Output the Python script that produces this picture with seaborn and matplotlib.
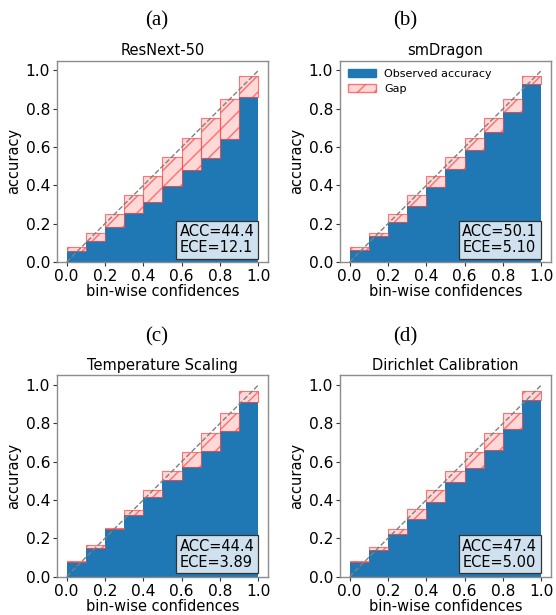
import numpy as np
import pandas as pd
import matplotlib
matplotlib.use("Agg")
import matplotlib.pyplot as plt
import matplotlib.patches as mpatches
import seaborn as sns

# bin edges (10 equal-width confidence bins)
edges = np.linspace(0, 1, 11)
centers = (edges[:-1] + edges[1:]) / 2

titles = ["ResNext-50", "smDragon", "Temperature Scaling", "Dirichlet Calibration"]
letters = ["(a)", "(b)", "(c)", "(d)"]

# observed accuracy per bin
acc_resnext = [0.056, 0.111, 0.181, 0.254, 0.312, 0.395, 0.481, 0.542, 0.643, 0.862]
acc_smdragon = [0.064, 0.134, 0.211, 0.293, 0.389, 0.486, 0.587, 0.678, 0.782, 0.929]
acc_temp = [0.075, 0.148, 0.250, 0.321, 0.415, 0.505, 0.573, 0.656, 0.762, 0.911]
acc_dirichlet = [0.078, 0.139, 0.222, 0.299, 0.389, 0.495, 0.569, 0.661, 0.773, 0.922]

# mean confidence per bin (top of the gap bars)
conf_resnext = [0.078, 0.152, 0.251, 0.350, 0.449, 0.550, 0.648, 0.753, 0.852, 0.972]
conf_smdragon = [0.078, 0.152, 0.250, 0.350, 0.449, 0.549, 0.648, 0.751, 0.852, 0.969]
conf_temp = [0.080, 0.165, 0.253, 0.349, 0.450, 0.552, 0.651, 0.752, 0.852, 0.969]
conf_dirichlet = [0.082, 0.155, 0.250, 0.351, 0.451, 0.549, 0.651, 0.752, 0.854, 0.969]

acc_scores = ["44.4", "50.1", "44.4", "47.4"]
ece_scores = ["12.1", "5.10", "3.89", "5.00"]

accs = [acc_resnext, acc_smdragon, acc_temp, acc_dirichlet]
confs = [conf_resnext, conf_smdragon, conf_temp, conf_dirichlet]

sns.set_theme(style="ticks")
plt.rcParams["font.family"] = ["DejaVu Sans"]
plt.rcParams.update({"text.color": "black", "axes.labelcolor": "black",
                     "xtick.labelcolor": "black", "ytick.labelcolor": "black"})

fig = plt.figure(figsize=(5.56, 6.15), dpi=100)
positions = [
    [0.1025, 0.574, 0.3795, 0.327],
    [0.6115, 0.574, 0.3795, 0.327],
    [0.1025, 0.0625, 0.3795, 0.327],
    [0.6115, 0.0625, 0.3795, 0.327],
]
letter_xy = [(157, 21), (405, 21), (157, 337), (405, 337)]

blue = "#1f77b4"
gap_face = (1, 0.7, 0.7, 0.5)
gap_edge = (1, 0.25, 0.25, 0.7)
for i in range(4):
    ax = fig.add_axes(positions[i])
    acc = np.array(accs[i])
    conf = np.array(confs[i])
    df = pd.DataFrame({"center": centers, "acc": acc})

    sns.histplot(data=df, x="center", weights="acc", binwidth=0.1,
                 binrange=(0, 1), color=blue, alpha=1.0, linewidth=0, ax=ax)
    ax.bar(edges[:-1], conf - acc, bottom=acc, width=0.1, align="edge",
           color=gap_face, edgecolor=gap_edge, linewidth=0.8, hatch="//", zorder=3)
    ax.plot([0, 1], [0, 1], ls="--", color="gray", lw=1, zorder=4)

    ax.set_xlim(-0.05, 1.05)
    ax.set_ylim(0, 1.05)
    ax.set_xticks(np.arange(0, 1.01, 0.2))
    ax.set_yticks(np.arange(0, 1.01, 0.2))
    ax.tick_params(labelsize=11.2, length=3, width=0.8, color="0.2", pad=2,
                   labelcolor="black")
    ax.set_xlabel("bin-wise confidences", fontsize=10.5, labelpad=0, color="black")
    ax.set_ylabel("accuracy", fontsize=10.5, labelpad=3, color="black")
    ax.set_title(titles[i], fontsize=10.5, pad=4, color="black")
    for s in ax.spines.values():
        s.set_color("0.55")
        s.set_linewidth(1.0)

    ax.text(0.935, 0.035, f"ACC={acc_scores[i]}\nECE={ece_scores[i]}",
            transform=ax.transAxes, ha="right", va="bottom", multialignment="left",
            fontsize=10.5, linespacing=1.05, color="black",
            bbox=dict(boxstyle="square,pad=0.25", facecolor="#cfe1ee",
                      edgecolor="#333333", linewidth=0.9), zorder=5)

    if i == 1:
        h1 = mpatches.Patch(color=blue, label="Observed accuracy")
        h2 = mpatches.Patch(facecolor=gap_face, edgecolor=gap_edge,
                            hatch="//", label="Gap")
        ax.legend(handles=[h1, h2], loc="upper left", frameon=False, fontsize=8,
                  handlelength=2.5, borderaxespad=0.3)

    lx, ly = letter_xy[i]
    fig.text(lx / 556, 1 - ly / 615, letters[i], ha="center", va="center",
             fontsize=15, color="black", family=["Liberation Serif", "DejaVu Serif"])

fig.savefig("out.png", dpi=100)
